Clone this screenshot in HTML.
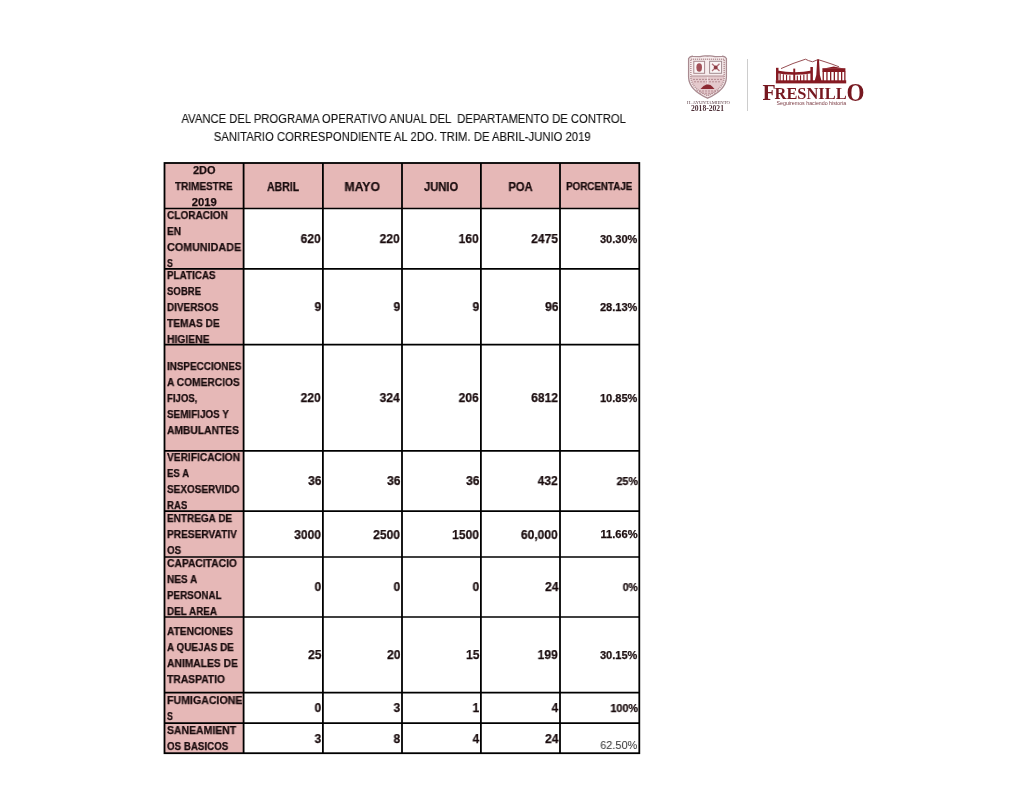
<!DOCTYPE html>
<html><head><meta charset="utf-8"><style>
html,body{margin:0;padding:0;background:#fff;width:1024px;height:791px;overflow:hidden;}
body{position:relative;font-family:"Liberation Sans",sans-serif;}
.g{position:absolute;left:0;top:0;}
.t{position:absolute;white-space:pre;will-change:transform;}
.b{-webkit-text-stroke:0.25px #1a0c0e;}
.ti{-webkit-text-stroke:0.12px #111;}
</style></head><body>
<svg class="g" width="1024" height="791" viewBox="0 0 1024 791"><rect x="164.5" y="163.0" width="79.1" height="590.2" fill="#E6B8B7"/><rect x="164.5" y="163.0" width="474.79999999999995" height="45.5" fill="#E6B8B7"/><line x1="243.6" y1="163.0" x2="243.6" y2="753.2" stroke="#000" stroke-width="1.8"/><line x1="322.9" y1="163.0" x2="322.9" y2="753.2" stroke="#000" stroke-width="1.8"/><line x1="402.0" y1="163.0" x2="402.0" y2="753.2" stroke="#000" stroke-width="1.8"/><line x1="480.9" y1="163.0" x2="480.9" y2="753.2" stroke="#000" stroke-width="1.8"/><line x1="560.0" y1="163.0" x2="560.0" y2="753.2" stroke="#000" stroke-width="1.8"/><line x1="164.5" y1="208.5" x2="639.3" y2="208.5" stroke="#000" stroke-width="1.7"/><line x1="164.5" y1="268.9" x2="639.3" y2="268.9" stroke="#000" stroke-width="1.7"/><line x1="164.5" y1="344.6" x2="639.3" y2="344.6" stroke="#000" stroke-width="1.7"/><line x1="164.5" y1="450.9" x2="639.3" y2="450.9" stroke="#000" stroke-width="1.7"/><line x1="164.5" y1="511.2" x2="639.3" y2="511.2" stroke="#000" stroke-width="1.7"/><line x1="164.5" y1="557.0" x2="639.3" y2="557.0" stroke="#000" stroke-width="1.7"/><line x1="164.5" y1="617.0" x2="639.3" y2="617.0" stroke="#000" stroke-width="1.7"/><line x1="164.5" y1="692.7" x2="639.3" y2="692.7" stroke="#000" stroke-width="1.7"/><line x1="164.5" y1="723.2" x2="639.3" y2="723.2" stroke="#000" stroke-width="1.7"/><rect x="164.5" y="163.0" width="474.79999999999995" height="590.2" fill="none" stroke="#000" stroke-width="1.8"/></svg>
<div class="t b" style="left:192.74px;transform-origin:50% 0;top:162.40px;font-size:11.0px;line-height:16px;font-weight:bold;color:#1a0c0e;transform:scaleX(0.9913);">2DO</div><div class="t b" style="left:172.27px;transform-origin:50% 0;top:178.40px;font-size:11.0px;line-height:16px;font-weight:bold;color:#1a0c0e;transform:scaleX(0.9068);">TRIMESTRE</div><div class="t b" style="left:191.81px;transform-origin:50% 0;top:194.40px;font-size:11.0px;line-height:16px;font-weight:bold;color:#1a0c0e;transform:scaleX(1.0232);">2019</div><div class="t b" style="left:264.16px;transform-origin:50% 0;top:178.60px;font-size:12.5px;line-height:16px;font-weight:bold;color:#1a0c0e;transform:scaleX(0.8446);">ABRIL</div><div class="t b" style="left:344.27px;transform-origin:50% 0;top:178.60px;font-size:12.5px;line-height:16px;font-weight:bold;color:#1a0c0e;transform:scaleX(0.9727);">MAYO</div><div class="t b" style="left:422.35px;transform-origin:50% 0;top:178.60px;font-size:12.5px;line-height:16px;font-weight:bold;color:#1a0c0e;transform:scaleX(0.8932);">JUNIO</div><div class="t b" style="left:506.91px;transform-origin:50% 0;top:178.60px;font-size:12.5px;line-height:16px;font-weight:bold;color:#1a0c0e;transform:scaleX(0.8938);">POA</div><div class="t b" style="left:562.47px;transform-origin:50% 0;top:177.80px;font-size:11.0px;line-height:16px;font-weight:bold;color:#1a0c0e;transform:scaleX(0.8887);">PORCENTAJE</div><div class="t b" style="left:166.60px;transform-origin:0 0;top:207.00px;font-size:11.0px;line-height:16px;font-weight:bold;color:#1a0c0e;transform:scaleX(0.9134);">CLORACION</div><div class="t b" style="left:166.60px;transform-origin:0 0;top:223.00px;font-size:11.0px;line-height:16px;font-weight:bold;color:#1a0c0e;transform:scaleX(0.9254);">EN</div><div class="t b" style="left:166.60px;transform-origin:0 0;top:239.00px;font-size:11.0px;line-height:16px;font-weight:bold;color:#1a0c0e;transform:scaleX(0.9784);">COMUNIDADE</div><div class="t b" style="left:166.60px;transform-origin:0 0;top:255.00px;font-size:11.0px;line-height:16px;font-weight:bold;color:#1a0c0e;transform:scaleX(0.7890);">S</div><div class="t b" style="left:299.31px;transform-origin:100% 0;top:231.13px;font-size:13px;line-height:16px;font-weight:bold;color:#1a0c0e;transform:scaleX(0.9253);">620</div><div class="t b" style="left:378.41px;transform-origin:100% 0;top:231.13px;font-size:13px;line-height:16px;font-weight:bold;color:#1a0c0e;transform:scaleX(0.9253);">220</div><div class="t b" style="left:457.31px;transform-origin:100% 0;top:231.13px;font-size:13px;line-height:16px;font-weight:bold;color:#1a0c0e;transform:scaleX(0.9253);">160</div><div class="t b" style="left:529.18px;transform-origin:100% 0;top:231.13px;font-size:13px;line-height:16px;font-weight:bold;color:#1a0c0e;transform:scaleX(0.9253);">2475</div><div class="t b" style="left:600.39px;transform-origin:100% 0;top:231.05px;font-size:11.0px;line-height:16px;font-weight:bold;color:#1a0c0e;transform:scaleX(0.9979);">30.30%</div><div class="t b" style="left:166.60px;transform-origin:0 0;top:267.20px;font-size:11.0px;line-height:16px;font-weight:bold;color:#1a0c0e;transform:scaleX(0.8964);">PLATICAS</div><div class="t b" style="left:166.60px;transform-origin:0 0;top:283.20px;font-size:11.0px;line-height:16px;font-weight:bold;color:#1a0c0e;transform:scaleX(0.8707);">SOBRE</div><div class="t b" style="left:166.60px;transform-origin:0 0;top:299.20px;font-size:11.0px;line-height:16px;font-weight:bold;color:#1a0c0e;transform:scaleX(0.9034);">DIVERSOS</div><div class="t b" style="left:166.60px;transform-origin:0 0;top:315.20px;font-size:11.0px;line-height:16px;font-weight:bold;color:#1a0c0e;transform:scaleX(0.9274);">TEMAS DE</div><div class="t b" style="left:166.60px;transform-origin:0 0;top:331.20px;font-size:11.0px;line-height:16px;font-weight:bold;color:#1a0c0e;transform:scaleX(0.9390);">HIGIENE</div><div class="t b" style="left:313.77px;transform-origin:100% 0;top:299.18px;font-size:13px;line-height:16px;font-weight:bold;color:#1a0c0e;transform:scaleX(0.9253);">9</div><div class="t b" style="left:392.87px;transform-origin:100% 0;top:299.18px;font-size:13px;line-height:16px;font-weight:bold;color:#1a0c0e;transform:scaleX(0.9253);">9</div><div class="t b" style="left:471.77px;transform-origin:100% 0;top:299.18px;font-size:13px;line-height:16px;font-weight:bold;color:#1a0c0e;transform:scaleX(0.9253);">9</div><div class="t b" style="left:543.64px;transform-origin:100% 0;top:299.18px;font-size:13px;line-height:16px;font-weight:bold;color:#1a0c0e;transform:scaleX(0.9253);">96</div><div class="t b" style="left:600.39px;transform-origin:100% 0;top:299.10px;font-size:11.0px;line-height:16px;font-weight:bold;color:#1a0c0e;transform:scaleX(0.9979);">28.13%</div><div class="t b" style="left:166.60px;transform-origin:0 0;top:357.80px;font-size:11.0px;line-height:16px;font-weight:bold;color:#1a0c0e;transform:scaleX(0.8955);">INSPECCIONES</div><div class="t b" style="left:166.60px;transform-origin:0 0;top:373.80px;font-size:11.0px;line-height:16px;font-weight:bold;color:#1a0c0e;transform:scaleX(0.9280);">A COMERCIOS</div><div class="t b" style="left:166.60px;transform-origin:0 0;top:389.80px;font-size:11.0px;line-height:16px;font-weight:bold;color:#1a0c0e;transform:scaleX(0.8683);">FIJOS,</div><div class="t b" style="left:166.60px;transform-origin:0 0;top:405.80px;font-size:11.0px;line-height:16px;font-weight:bold;color:#1a0c0e;transform:scaleX(0.8988);">SEMIFIJOS Y</div><div class="t b" style="left:166.60px;transform-origin:0 0;top:421.80px;font-size:11.0px;line-height:16px;font-weight:bold;color:#1a0c0e;transform:scaleX(0.9339);">AMBULANTES</div><div class="t b" style="left:299.31px;transform-origin:100% 0;top:390.18px;font-size:13px;line-height:16px;font-weight:bold;color:#1a0c0e;transform:scaleX(0.9253);">220</div><div class="t b" style="left:378.41px;transform-origin:100% 0;top:390.18px;font-size:13px;line-height:16px;font-weight:bold;color:#1a0c0e;transform:scaleX(0.9253);">324</div><div class="t b" style="left:457.31px;transform-origin:100% 0;top:390.18px;font-size:13px;line-height:16px;font-weight:bold;color:#1a0c0e;transform:scaleX(0.9253);">206</div><div class="t b" style="left:529.18px;transform-origin:100% 0;top:390.18px;font-size:13px;line-height:16px;font-weight:bold;color:#1a0c0e;transform:scaleX(0.9253);">6812</div><div class="t b" style="left:600.39px;transform-origin:100% 0;top:390.10px;font-size:11.0px;line-height:16px;font-weight:bold;color:#1a0c0e;transform:scaleX(0.9979);">10.85%</div><div class="t b" style="left:166.60px;transform-origin:0 0;top:448.70px;font-size:11.0px;line-height:16px;font-weight:bold;color:#1a0c0e;transform:scaleX(0.9255);">VERIFICACION</div><div class="t b" style="left:166.60px;transform-origin:0 0;top:464.70px;font-size:11.0px;line-height:16px;font-weight:bold;color:#1a0c0e;transform:scaleX(0.8788);">ES A</div><div class="t b" style="left:166.60px;transform-origin:0 0;top:480.70px;font-size:11.0px;line-height:16px;font-weight:bold;color:#1a0c0e;transform:scaleX(0.9067);">SEXOSERVIDO</div><div class="t b" style="left:166.60px;transform-origin:0 0;top:496.70px;font-size:11.0px;line-height:16px;font-weight:bold;color:#1a0c0e;transform:scaleX(0.8719);">RAS</div><div class="t b" style="left:306.54px;transform-origin:100% 0;top:473.48px;font-size:13px;line-height:16px;font-weight:bold;color:#1a0c0e;transform:scaleX(0.9253);">36</div><div class="t b" style="left:385.64px;transform-origin:100% 0;top:473.48px;font-size:13px;line-height:16px;font-weight:bold;color:#1a0c0e;transform:scaleX(0.9253);">36</div><div class="t b" style="left:464.54px;transform-origin:100% 0;top:473.48px;font-size:13px;line-height:16px;font-weight:bold;color:#1a0c0e;transform:scaleX(0.9253);">36</div><div class="t b" style="left:536.41px;transform-origin:100% 0;top:473.48px;font-size:13px;line-height:16px;font-weight:bold;color:#1a0c0e;transform:scaleX(0.9253);">432</div><div class="t b" style="left:615.68px;transform-origin:100% 0;top:473.40px;font-size:11.0px;line-height:16px;font-weight:bold;color:#1a0c0e;transform:scaleX(0.9732);">25%</div><div class="t b" style="left:166.60px;transform-origin:0 0;top:509.90px;font-size:11.0px;line-height:16px;font-weight:bold;color:#1a0c0e;transform:scaleX(0.9092);">ENTREGA DE</div><div class="t b" style="left:166.60px;transform-origin:0 0;top:525.90px;font-size:11.0px;line-height:16px;font-weight:bold;color:#1a0c0e;transform:scaleX(0.9219);">PRESERVATIV</div><div class="t b" style="left:166.60px;transform-origin:0 0;top:541.90px;font-size:11.0px;line-height:16px;font-weight:bold;color:#1a0c0e;transform:scaleX(0.8894);">OS</div><div class="t b" style="left:292.08px;transform-origin:100% 0;top:526.53px;font-size:13px;line-height:16px;font-weight:bold;color:#1a0c0e;transform:scaleX(0.9253);">3000</div><div class="t b" style="left:371.18px;transform-origin:100% 0;top:526.53px;font-size:13px;line-height:16px;font-weight:bold;color:#1a0c0e;transform:scaleX(0.9253);">2500</div><div class="t b" style="left:450.08px;transform-origin:100% 0;top:526.53px;font-size:13px;line-height:16px;font-weight:bold;color:#1a0c0e;transform:scaleX(0.9253);">1500</div><div class="t b" style="left:518.34px;transform-origin:100% 0;top:526.53px;font-size:13px;line-height:16px;font-weight:bold;color:#1a0c0e;transform:scaleX(0.9272);">60,000</div><div class="t b" style="left:601.00px;transform-origin:100% 0;top:526.45px;font-size:11.0px;line-height:16px;font-weight:bold;color:#1a0c0e;transform:scaleX(1.0144);">11.66%</div><div class="t b" style="left:166.60px;transform-origin:0 0;top:554.80px;font-size:11.0px;line-height:16px;font-weight:bold;color:#1a0c0e;transform:scaleX(0.9344);">CAPACITACIO</div><div class="t b" style="left:166.60px;transform-origin:0 0;top:570.80px;font-size:11.0px;line-height:16px;font-weight:bold;color:#1a0c0e;transform:scaleX(0.9121);">NES A</div><div class="t b" style="left:166.60px;transform-origin:0 0;top:586.80px;font-size:11.0px;line-height:16px;font-weight:bold;color:#1a0c0e;transform:scaleX(0.8921);">PERSONAL</div><div class="t b" style="left:166.60px;transform-origin:0 0;top:602.80px;font-size:11.0px;line-height:16px;font-weight:bold;color:#1a0c0e;transform:scaleX(0.8984);">DEL AREA</div><div class="t b" style="left:313.77px;transform-origin:100% 0;top:579.43px;font-size:13px;line-height:16px;font-weight:bold;color:#1a0c0e;transform:scaleX(0.9253);">0</div><div class="t b" style="left:392.87px;transform-origin:100% 0;top:579.43px;font-size:13px;line-height:16px;font-weight:bold;color:#1a0c0e;transform:scaleX(0.9253);">0</div><div class="t b" style="left:471.77px;transform-origin:100% 0;top:579.43px;font-size:13px;line-height:16px;font-weight:bold;color:#1a0c0e;transform:scaleX(0.9253);">0</div><div class="t b" style="left:543.64px;transform-origin:100% 0;top:579.43px;font-size:13px;line-height:16px;font-weight:bold;color:#1a0c0e;transform:scaleX(0.9253);">24</div><div class="t b" style="left:621.80px;transform-origin:100% 0;top:579.35px;font-size:11.0px;line-height:16px;font-weight:bold;color:#1a0c0e;transform:scaleX(0.9539);">0%</div><div class="t b" style="left:166.60px;transform-origin:0 0;top:623.00px;font-size:11.0px;line-height:16px;font-weight:bold;color:#1a0c0e;transform:scaleX(0.9234);">ATENCIONES</div><div class="t b" style="left:166.60px;transform-origin:0 0;top:639.00px;font-size:11.0px;line-height:16px;font-weight:bold;color:#1a0c0e;transform:scaleX(0.9009);">A QUEJAS DE</div><div class="t b" style="left:166.60px;transform-origin:0 0;top:655.00px;font-size:11.0px;line-height:16px;font-weight:bold;color:#1a0c0e;transform:scaleX(0.9351);">ANIMALES DE</div><div class="t b" style="left:166.60px;transform-origin:0 0;top:671.00px;font-size:11.0px;line-height:16px;font-weight:bold;color:#1a0c0e;transform:scaleX(0.9376);">TRASPATIO</div><div class="t b" style="left:306.54px;transform-origin:100% 0;top:647.28px;font-size:13px;line-height:16px;font-weight:bold;color:#1a0c0e;transform:scaleX(0.9253);">25</div><div class="t b" style="left:385.64px;transform-origin:100% 0;top:647.28px;font-size:13px;line-height:16px;font-weight:bold;color:#1a0c0e;transform:scaleX(0.9253);">20</div><div class="t b" style="left:464.54px;transform-origin:100% 0;top:647.28px;font-size:13px;line-height:16px;font-weight:bold;color:#1a0c0e;transform:scaleX(0.9253);">15</div><div class="t b" style="left:536.41px;transform-origin:100% 0;top:647.28px;font-size:13px;line-height:16px;font-weight:bold;color:#1a0c0e;transform:scaleX(0.9253);">199</div><div class="t b" style="left:600.39px;transform-origin:100% 0;top:647.20px;font-size:11.0px;line-height:16px;font-weight:bold;color:#1a0c0e;transform:scaleX(0.9979);">30.15%</div><div class="t b" style="left:166.60px;transform-origin:0 0;top:692.40px;font-size:11.0px;line-height:16px;font-weight:bold;color:#1a0c0e;transform:scaleX(0.9632);">FUMIGACIONE</div><div class="t b" style="left:166.60px;transform-origin:0 0;top:708.40px;font-size:11.0px;line-height:16px;font-weight:bold;color:#1a0c0e;transform:scaleX(0.7890);">S</div><div class="t b" style="left:313.77px;transform-origin:100% 0;top:700.38px;font-size:13px;line-height:16px;font-weight:bold;color:#1a0c0e;transform:scaleX(0.9253);">0</div><div class="t b" style="left:392.87px;transform-origin:100% 0;top:700.38px;font-size:13px;line-height:16px;font-weight:bold;color:#1a0c0e;transform:scaleX(0.9253);">3</div><div class="t b" style="left:471.77px;transform-origin:100% 0;top:700.38px;font-size:13px;line-height:16px;font-weight:bold;color:#1a0c0e;transform:scaleX(0.9253);">1</div><div class="t b" style="left:550.87px;transform-origin:100% 0;top:700.38px;font-size:13px;line-height:16px;font-weight:bold;color:#1a0c0e;transform:scaleX(0.9253);">4</div><div class="t b" style="left:609.57px;transform-origin:100% 0;top:700.30px;font-size:11.0px;line-height:16px;font-weight:bold;color:#1a0c0e;transform:scaleX(0.9840);">100%</div><div class="t b" style="left:166.60px;transform-origin:0 0;top:722.40px;font-size:11.0px;line-height:16px;font-weight:bold;color:#1a0c0e;transform:scaleX(0.9507);">SANEAMIENT</div><div class="t b" style="left:166.60px;transform-origin:0 0;top:738.40px;font-size:11.0px;line-height:16px;font-weight:bold;color:#1a0c0e;transform:scaleX(0.8865);">OS BASICOS</div><div class="t b" style="left:313.77px;transform-origin:100% 0;top:730.63px;font-size:13px;line-height:16px;font-weight:bold;color:#1a0c0e;transform:scaleX(0.9253);">3</div><div class="t b" style="left:392.87px;transform-origin:100% 0;top:730.63px;font-size:13px;line-height:16px;font-weight:bold;color:#1a0c0e;transform:scaleX(0.9253);">8</div><div class="t b" style="left:471.77px;transform-origin:100% 0;top:730.63px;font-size:13px;line-height:16px;font-weight:bold;color:#1a0c0e;transform:scaleX(0.9253);">4</div><div class="t b" style="left:543.64px;transform-origin:100% 0;top:730.63px;font-size:13px;line-height:16px;font-weight:bold;color:#1a0c0e;transform:scaleX(0.9253);">24</div><div class="t" style="left:600.19px;transform-origin:100% 0;top:736.80px;font-size:11.0px;line-height:16px;font-weight:normal;color:#2e2e2e;transform:scaleX(0.9923);">62.50%</div><div class="t ti" style="left:150.86px;transform-origin:50% 0;top:111.10px;font-size:12.8px;line-height:16px;color:#111;transform:scaleX(0.8794);">AVANCE DEL PROGRAMA OPERATIVO ANUAL DEL  DEPARTAMENTO DE CONTROL</div><div class="t ti" style="left:189.23px;transform-origin:50% 0;top:129.40px;font-size:12.8px;line-height:16px;color:#111;transform:scaleX(0.8839);">SANITARIO CORRESPONDIENTE AL 2DO. TRIM. DE ABRIL-JUNIO 2019</div>
<svg class="g" width="1024" height="791" viewBox="0 0 1024 791">
<!-- shield -->
<g>
<path d="M688.6,58.5 Q690,56 693,56.3 L700,56.6 Q704,55.4 707.5,56 Q711,55.4 715,56.6 L722,56.3 Q725,56 726.4,58.5 L726.4,77.5 Q726,90 707.6,98.2 Q689.2,90 688.6,77.5 Z" fill="#f7eced" stroke="#a88a90" stroke-width="1.3"/>
<path d="M691,77 L724,77 Q723.6,88.5 707.6,95.8 Q691.6,88.5 691,77 Z" fill="#e4c9cc"/>
<path d="M690.8,59.2 L724.2,59.2 L724.2,77 Q723.8,88.5 707.6,95.8 Q691.4,88.5 690.8,77 Z" fill="none" stroke="#b9979c" stroke-width="1.6" stroke-dasharray="1.2 0.8"/>
<rect x="693.8" y="61.3" width="10.8" height="12" fill="#fbf5f6" stroke="#a8868c" stroke-width="1"/>
<rect x="709.6" y="61.3" width="12" height="12" fill="#fbf5f6" stroke="#a08a8f" stroke-width="1"/>
<ellipse cx="699.2" cy="67.5" rx="2.8" ry="4.2" fill="#a3525a"/>
<path d="M712,63.8 L719.5,71 M719.5,63.8 L712,71" stroke="#b07078" stroke-width="1.3"/>
<circle cx="715.7" cy="67.5" r="1.9" fill="#8d3b43"/>
<rect x="691" y="75.4" width="33" height="1.4" fill="#bf9ea3"/>
<path d="M693,79.4 L722,79.4 M694,81.8 L721,81.8 M696,91 L719,91 M699,93.2 L716,93.2" stroke="#b58c92" stroke-width="1" stroke-dasharray="2 1"/>
<path d="M707.6,77 L707.6,84" stroke="#f3e6e8" stroke-width="1"/>
<path d="M700.5,89 Q703.5,85.6 706.5,84.6 Q708.5,84 710.5,85 Q713,86.8 714.5,89 Z" fill="#8c2a33"/>
</g>
<text x="708.5" y="104.2" font-family="Liberation Serif" font-size="4.8" fill="#5a3a42" text-anchor="middle" textLength="43" lengthAdjust="spacingAndGlyphs">H. AYUNTAMIENTO</text>
<text x="707.5" y="110.7" font-family="Liberation Serif" font-weight="bold" font-size="7.8" fill="#4e3038" text-anchor="middle" textLength="33" lengthAdjust="spacingAndGlyphs">2018-2021</text>
<rect x="747" y="59" width="0.9" height="52" fill="#c8c8c8"/>
<!-- fresnillo building -->
<g fill="#861a22">
<path d="M781,68.6 L793,63.5 L805.5,59.2 L808.5,60.6 L812.6,61.8 L816,60.4 L818,59.6 L825,61.8 L833,64.5 L839,66.8" fill="none" stroke="#8a3a40" stroke-width="0.9"/>
<rect x="775.8" y="80.3" width="70.4" height="3.1"/>
<rect x="776" y="67.8" width="2.5" height="13"/>
<rect x="810.4" y="67.0" width="2.5" height="14"/>
<rect x="793.3" y="68.6" width="1.9" height="12"/>
<path d="M777,70.6 Q795,74.0 812,70.6 L812,73.2 Q795,76.2 777,73.2 Z"/>
<rect x="779.6" y="73.4" width="1.1" height="7.6"/>
<rect x="782.8" y="74.2" width="1.1" height="6.8"/>
<rect x="786.0" y="74.9" width="1.1" height="6.1"/>
<rect x="789.3" y="75.4" width="1.1" height="5.6"/>
<rect x="796.8" y="75.6" width="1.1" height="5.4"/>
<rect x="800.0" y="75.3" width="1.1" height="5.7"/>
<rect x="803.3" y="74.8" width="1.1" height="6.2"/>
<rect x="806.6" y="74.1" width="1.1" height="6.9"/>
<path d="M817.2,59.4 L819,59.4 L819.9,75 L821.6,81 L814.6,81 L816.3,75 Z"/>
<rect x="822.4" y="68.2" width="23" height="3.8"/>
<path d="M824,68.4 L833.7,66.6 L843.6,68.4 Z"/>
<rect x="822.6" y="71.5" width="1.3" height="9.5"/>
<rect x="826.3" y="71.5" width="1.3" height="9.5"/>
<rect x="830.0" y="71.5" width="1.3" height="9.5"/>
<rect x="833.7" y="71.5" width="1.3" height="9.5"/>
<rect x="837.4" y="71.5" width="1.3" height="9.5"/>
<rect x="841.0" y="71.5" width="1.3" height="9.5"/>
<rect x="844.2" y="71.5" width="1.3" height="9.5"/>
</g>
<g fill="#761820" font-family="Liberation Serif" font-weight="bold">
<text x="762.4" y="100.2" font-size="23" textLength="13.2" lengthAdjust="spacingAndGlyphs">F</text>
<text x="774.6" y="99.3" font-size="16.4" textLength="72" lengthAdjust="spacingAndGlyphs">RESNILL</text>
<text x="846.6" y="100.8" font-size="24.5" textLength="18" lengthAdjust="spacingAndGlyphs">O</text>
</g>
<text x="776.6" y="105.3" font-family="Liberation Sans" font-size="5.8" fill="#7a3a42" textLength="69.5" lengthAdjust="spacingAndGlyphs">Seguiremos haciendo historia</text>
</svg>

</body></html>
